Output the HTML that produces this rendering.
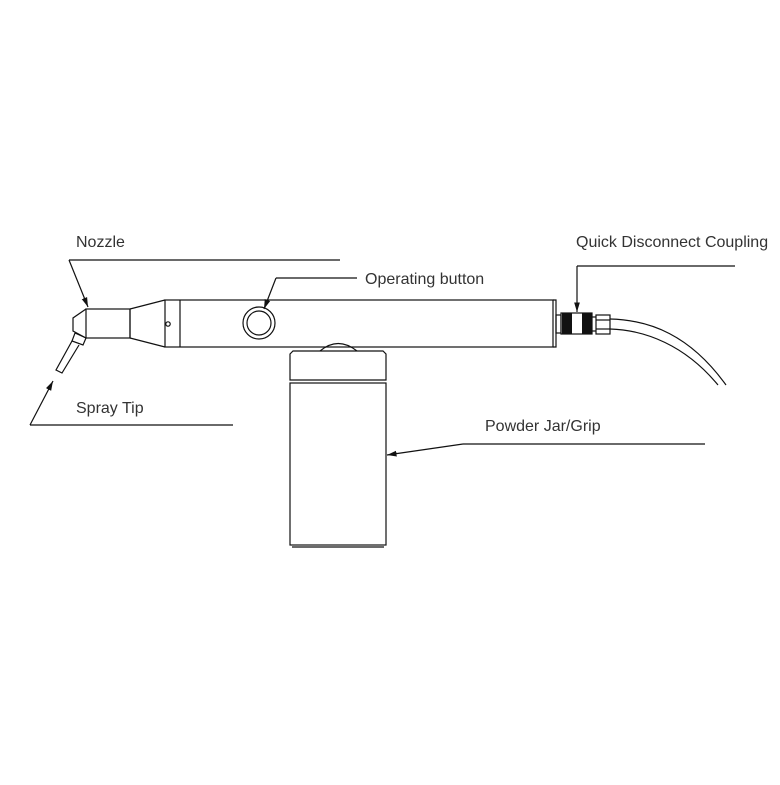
<!DOCTYPE html>
<html><head><style>
body{margin:0;background:#fff}
text{font-family:"Liberation Sans",sans-serif;font-size:16px;fill:#333}
</style></head><body>
<svg width="780" height="780" viewBox="0 0 780 780" xmlns="http://www.w3.org/2000/svg">
<defs><marker id="a" viewBox="0 0 10 10" refX="10" refY="5" markerWidth="8" markerHeight="8" orient="auto"><path d="M0,2 L10,5 L0,8 z" fill="#111"/></marker></defs>
<g fill="none" stroke="#111" stroke-width="1.2">
<rect x="165" y="300" width="388" height="47"/>
<line x1="180" y1="300" x2="180" y2="347"/>
<path d="M553,300 h3 v47 h-3"/>
<path d="M130,309 L165,300 M130,338 L165,347 M130,309 V338"/>
<circle cx="168" cy="324" r="2.2"/>
<rect x="86" y="309" width="44" height="29"/>
<path d="M86,309 L73,318 V331 L86,338"/>
<path d="M75,333 L86,338 L83,345 L72,341 z"/>
<path d="M72,341 L56,370 L62,373 L79,345"/>
<circle cx="259" cy="323" r="16"/>
<circle cx="259" cy="323" r="12"/>
<rect x="556" y="315" width="5" height="18"/>
<rect x="561" y="313" width="31" height="21"/>
<rect x="596" y="315" width="14" height="19"/>
<line x1="592" y1="317" x2="596" y2="317"/><line x1="592" y1="331" x2="596" y2="331"/>
<line x1="596" y1="320" x2="610" y2="320"/><line x1="596" y1="329" x2="610" y2="329"/>
<path d="M610,319 C650,320 690,335 726,385"/>
<path d="M610,329 C645,330 685,345 718,385"/>
<path d="M290,354 L293,351 H383 L386,354 V380 H290 z"/>
<path d="M320,351 Q338,336 357,351"/>
<rect x="290" y="383" width="96" height="162"/>
<line x1="292" y1="547" x2="384" y2="547"/>
<line x1="69" y1="260" x2="340" y2="260"/>
<line x1="69" y1="260" x2="88" y2="307" marker-end="url(#a)"/>
<line x1="357" y1="278" x2="276" y2="278"/>
<line x1="276" y1="278" x2="264" y2="309" marker-end="url(#a)"/>
<line x1="577" y1="266" x2="735" y2="266"/>
<line x1="577" y1="266" x2="577" y2="312" marker-end="url(#a)"/>
<line x1="463" y1="444" x2="705" y2="444"/>
<line x1="463" y1="444" x2="387" y2="455" marker-end="url(#a)"/>
<line x1="30" y1="425" x2="233" y2="425"/>
<line x1="30" y1="425" x2="53" y2="381" marker-end="url(#a)"/>
</g>
<g fill="#111">
<rect x="562" y="313" width="10" height="21"/>
<rect x="582" y="313" width="10" height="21"/>
</g>
<text x="76" y="247">Nozzle</text>
<text x="365" y="284">Operating button</text>
<text x="576" y="247">Quick Disconnect Coupling</text>
<text x="485" y="431">Powder Jar/Grip</text>
<text x="76" y="413">Spray Tip</text>
</svg>
</body></html>
